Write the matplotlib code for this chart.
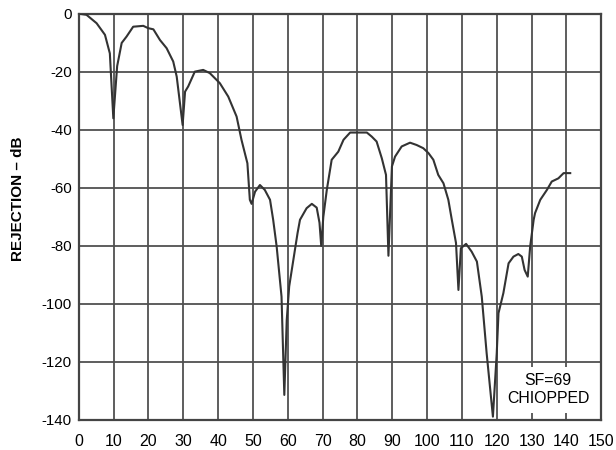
import matplotlib
matplotlib.use("Agg")
import matplotlib.pyplot as plt

plt.rcParams['font.family'] = ['Liberation Sans', 'DejaVu Sans']

freq = [0.5, 2.2, 5.1, 7.5, 8.9, 9.9, 11.0, 12.3, 13.7, 15.6, 18.5, 19.9, 21.4, 23.3, 25.2,
        27.1, 28.1, 29.8, 30.5, 31.4, 33.3, 35.7, 37.6, 40.5, 42.9, 45.3, 46.7, 48.4, 49.1,
        49.6, 50.6, 52.0, 53.4, 54.9, 55.8, 56.8, 58.2, 59.0, 59.7, 60.4, 61.6, 62.8, 63.5,
        65.4, 66.9, 68.3, 69.1, 69.6, 70.2, 71.2, 72.6, 74.5, 76.0, 77.9, 82.7, 84.1, 85.5,
        87.0, 88.2, 88.9, 89.9, 90.8, 92.7, 95.1, 97.0, 98.9, 100.4, 101.8, 103.2, 104.7,
        106.1, 107.1, 108.3, 109.0, 109.7, 111.2, 112.8, 114.3, 115.7, 117.1, 118.9, 120.0,
        120.5, 121.9, 123.4, 124.8, 126.2, 127.2, 128.0, 128.9, 129.6, 130.6, 131.0, 132.5,
        134.4, 135.8, 137.7, 139.2, 141.1]
rejection = [0.0, -0.3, -3.2, -7.2, -13.6, -36.0, -18.0, -10.0, -7.8, -4.4, -4.1, -4.9, -5.3,
             -9.0, -11.8, -16.4, -21.6, -38.3, -26.8, -25.0, -19.9, -19.3, -20.4, -23.9, -28.5,
             -35.4, -43.4, -51.5, -64.1, -65.5, -61.3, -59.0, -60.7, -64.1, -71.0, -80.2, -97.5,
             -131.4, -105.5, -94.0, -84.8, -75.6, -71.0, -67.0, -65.5, -66.8, -72.0, -80.0,
             -70.0, -60.7, -50.3, -47.5, -43.4, -40.9, -40.9, -42.3, -44.0, -49.8, -55.5,
             -83.4, -52.6, -49.2, -45.7, -44.4, -45.2, -46.3, -48.0, -50.3, -55.5, -58.4,
             -64.1, -71.0, -79.0, -95.2, -80.8, -79.3, -82.0, -85.4, -97.5, -117.0, -138.9,
             -117.0, -103.2, -96.3, -86.0, -83.7, -82.8, -83.7, -88.3, -90.6, -80.2, -71.0,
             -68.7, -64.1, -60.7, -57.8, -56.7, -54.9, -54.9]

xticks = list(range(0, 151, 10))
yticks = list(range(0, -141, -20))

fig = plt.figure(figsize=(6.16, 4.5), dpi=100)
ax = fig.add_axes([0.128, 0.067, 0.848, 0.902])
ax.plot(freq, rejection, color='#333333', lw=1.5, zorder=3)
ax.set_xlim(0, 150)
ax.set_ylim(-140, 0)
ax.set_xticks(xticks)
ax.set_yticks(yticks)
ax.set_xticklabels([str(v) for v in xticks], fontsize=11.5)
ax.set_yticklabels([str(v).replace('\u2212', '-') for v in yticks], fontsize=10.8)
ax.tick_params(axis='x', length=0, pad=10)
ax.tick_params(axis='y', length=0, pad=5)
ax.grid(True, color='#505050', lw=1.3)
for s in ax.spines.values():
    s.set_color('#444444')
    s.set_linewidth(1.6)
ax.set_ylabel('REJECTION \u2013 dB', fontsize=11, fontweight='bold')
ax.yaxis.set_label_coords(-0.104, 0.544)
ax.text(134.8, -129.7, 'SF=69\nCHIOPPED', fontsize=11.4, ha='center', va='center',
        multialignment='center', zorder=4, linespacing=1.25,
        bbox=dict(facecolor='white', edgecolor='none', pad=5))
fig.savefig('out.png', dpi=100)
